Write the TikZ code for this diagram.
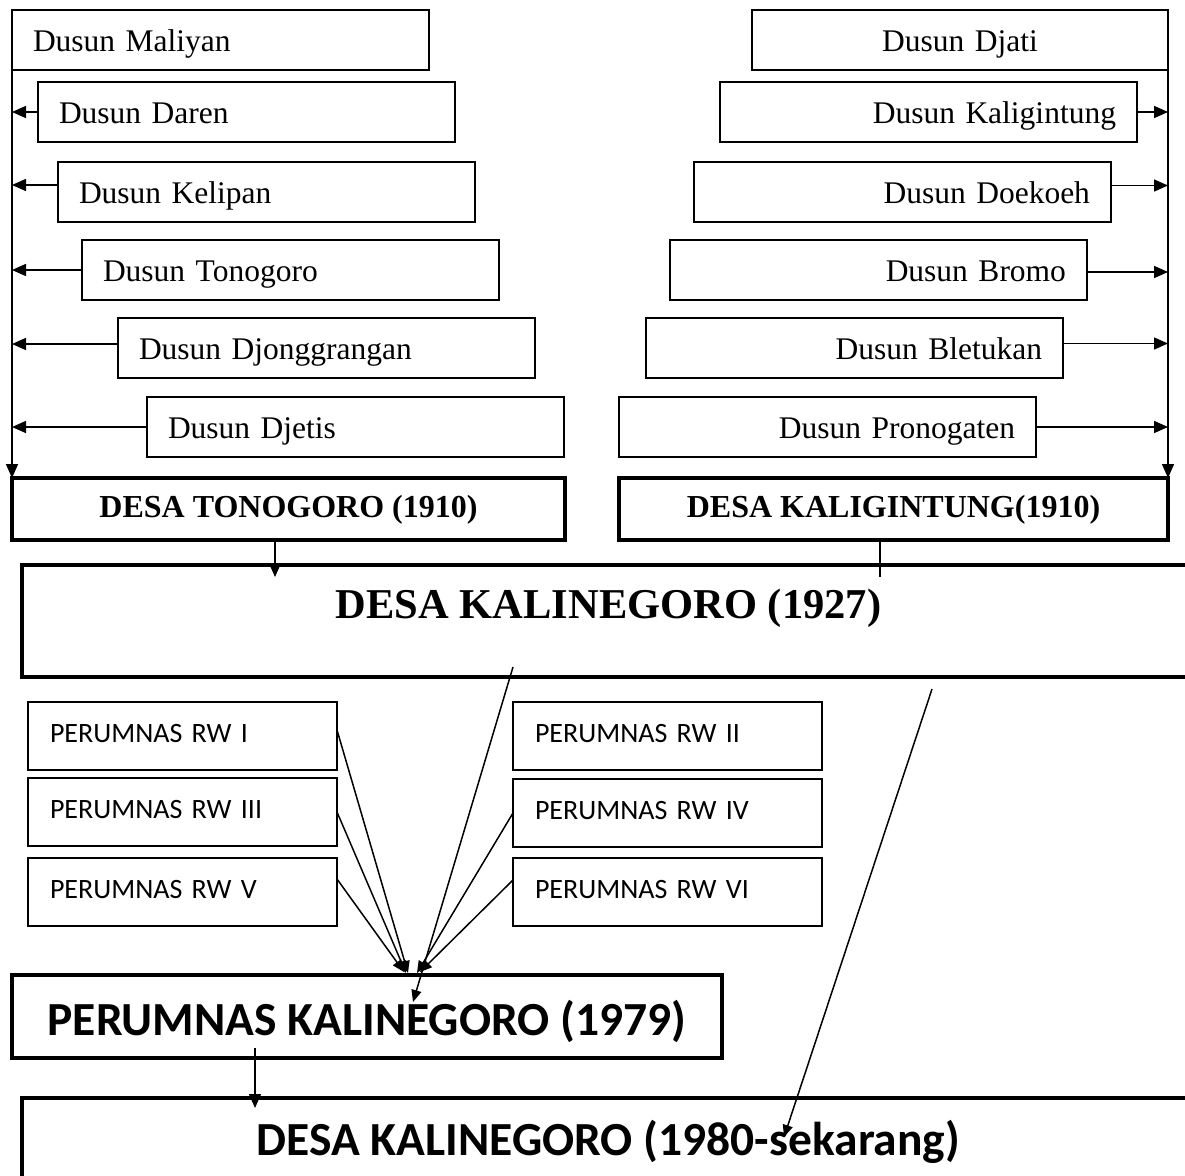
\documentclass[tikz,border=0pt]{standalone}
\usepackage{fontspec}
\setmainfont{Liberation Serif}
\newfontfamily\calibri{Carlito}
\usetikzlibrary{arrows.meta}
\begin{document}
\begin{tikzpicture}[x=1pt,y=-1pt,
  box/.style={draw, rectangle, outer sep=0pt, inner ysep=0pt, anchor=north west, line width=1.6pt},
  dfont/.style={font=\fontsize{31.5}{36}\selectfont},
  dusunL/.style={box, dfont, inner xsep=21pt, text width=375pt, align=left, text height=41.5pt, text depth=18.5pt},
  dusunR/.style={box, dfont, inner xsep=21pt, text width=375pt, align=right, text height=41.5pt, text depth=18.5pt},
  dusunC/.style={box, dfont, inner xsep=21pt, text width=374pt, align=center, text height=41.5pt, text depth=18.5pt},
  desa/.style={box, line width=3.5pt, inner xsep=0pt, align=center, text height=39pt, text depth=23pt, font=\bfseries\fontsize{32}{38}\selectfont},
  kal/.style={box, line width=3.5pt, inner xsep=0pt, align=center, font=\bfseries\fontsize{42.5}{50}\selectfont},
  rw/.style={box, inner xsep=22pt, text width=265pt, align=left, text height=40pt, text depth=28pt, font=\calibri\fontsize{28}{32}\selectfont},
  big/.style={box, line width=3.5pt, inner xsep=0pt, align=center, font=\calibri\bfseries\fontsize{47.5}{56}\selectfont},
  conn/.style={line width=1.5pt},
  arr/.style={line width=1.5pt, -{Triangle[length=14pt,width=12pt]}},
  arrs/.style={line width=1.5pt, -{Triangle[length=12pt,width=10pt]}}
]
\useasboundingbox (0,0) rectangle (1185,1175);

% left dusun
\node[dusunL] (l1) at (12,10) {Dusun Maliyan};
\node[dusunL] (l2) at (38,82) {Dusun Daren};
\node[dusunL] (l3) at (58,162) {Dusun Kelipan};
\node[dusunL] (l4) at (82,240) {Dusun Tonogoro};
\node[dusunL] (l5) at (118,318) {Dusun Djonggrangan};
\node[dusunL] (l6) at (147,397) {Dusun Djetis};

% right dusun
\node[dusunC] (r1) at (752,10) {Dusun Djati};
\node[dusunR] (r2) at (720,82) {Dusun Kaligintung};
\node[dusunR] (r3) at (694,162) {Dusun Doekoeh};
\node[dusunR] (r4) at (670,240) {Dusun Bromo};
\node[dusunR] (r5) at (646,318) {Dusun Bletukan};
\node[dusunR] (r6) at (619,397) {Dusun Pronogaten};

% desa 1910
\node[desa, minimum width=553pt] (tono) at (12,478) {DESA TONOGORO (1910)};
\node[desa, minimum width=549pt] (kali) at (619,478) {DESA KALIGINTUNG(1910)};

% desa 1927
\node[kal, minimum width=1173pt, text height=53pt, text depth=59pt] (k27) at (22,565) {DESA KALINEGORO (1927)};

% RW boxes
\node[rw] (rw1) at (28,702) {PERUMNAS RW I};
\node[rw] (rw3) at (28,778) {PERUMNAS RW III};
\node[rw] (rw5) at (28,858) {PERUMNAS RW V};
\node[rw] (rw2) at (513,702) {PERUMNAS RW II};
\node[rw] (rw4) at (513,779) {PERUMNAS RW IV};
\node[rw] (rw6) at (513,858) {PERUMNAS RW VI};

% perumnas and 1980
\node[big, minimum width=710pt, text height=60pt, text depth=23pt] (per) at (12,975) {PERUMNAS KALINEGORO (1979)};
\node[big, minimum width=1173pt, text height=57pt, text depth=40pt] (k80) at (22,1098) {DESA KALINEGORO (1980-sekarang)};

% left rail
\draw[arr] (l1.south west) -- (tono.north west);
\draw[arr] (l2.west) -- (l2.west -| l1.west);
\draw[arr] ([yshift=7pt]l3.west) -- ([yshift=7pt]l3.west -| l1.west);
\draw[arr] (l4.west) -- (l4.west -| l1.west);
\draw[arr] ([yshift=4pt]l5.west) -- ([yshift=4pt]l5.west -| l1.west);
\draw[arr] (l6.west) -- (l6.west -| l1.west);

% right rail
\draw[arr] (r1.south east) -- (kali.north east);
\draw[arr] (r2.east) -- (r2.east -| r1.east);
\draw[arr] ([yshift=6.5pt]r3.east) -- ([yshift=6.5pt]r3.east -| r1.east);
\draw[arr] ([yshift=-2pt]r4.east) -- ([yshift=-2pt]r4.east -| r1.east);
\draw[arr] ([yshift=4.5pt]r5.east) -- ([yshift=4.5pt]r5.east -| r1.east);
\draw[arr] (r6.east) -- (r6.east -| r1.east);

% 1910 -> 1927
\coordinate (a1) at (275,577);
\coordinate (a2) at (880,577);
\draw[arr] (a1 |- tono.south) -- (a1);
\draw[conn] (a2 |- kali.south) -- (a2);

% converging arrows
\coordinate (t1) at (408,973);
\coordinate (t3) at (406,973);
\coordinate (t5) at (404,972);
\coordinate (t4) at (417,973);
\coordinate (t6) at (420,972);
\draw[arrs] ([yshift=6pt]rw1.east) -- (t1);
\draw[arrs] (rw3.east) -- (t3);
\draw[arrs] ([yshift=13pt]rw5.east) -- (t5);
\draw[arrs] (rw4.west) -- (t4);
\draw[arrs] ([yshift=12pt]rw6.west) -- (t6);

% 1927 -> perumnas
\coordinate (b1) at (513,667);
\coordinate (b2) at (413,1002);
\draw[arrs] (b1) -- (b2);

% 1927 -> 1980
\coordinate (c1) at (932,689);
\coordinate (c2) at (784,1137);
\draw[arrs] (c1) -- (c2);

% perumnas -> 1980
\coordinate (d1) at (255,1048);
\coordinate (d2) at (255,1108);
\draw[arr] (d1) -- (d2);
\end{tikzpicture}
\end{document}
